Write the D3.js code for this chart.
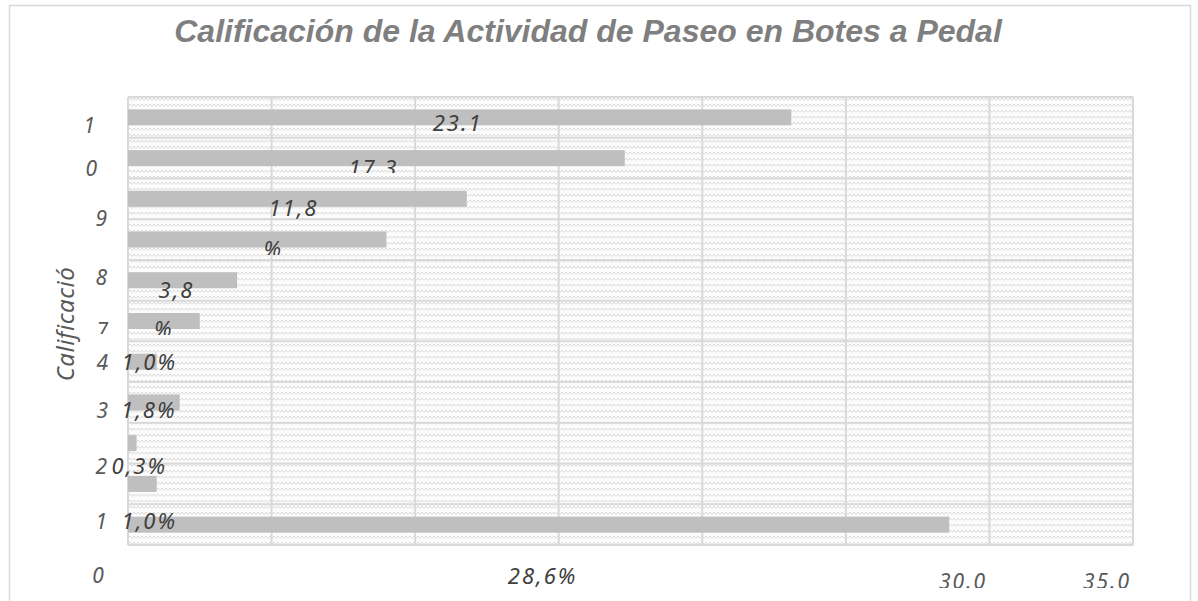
<!DOCTYPE html>
<html><head><meta charset="utf-8">
<script src="https://cdn.jsdelivr.net/npm/d3@7"></script>
<style>body{margin:0;background:#fff;overflow:hidden}</style>
</head><body>
<svg id="chart" width="1198" height="601"></svg>
<script>
// ---- data ----
const title = "Calificación de la Actividad de Paseo en Botes a Pedal";
const axisTitle = "Calificació";
const categories = ["r1","r2","r3","r4","r5","r6","r7","r8","r9","r10","r11"];
const values = [23.1, 17.3, 11.8, 9.0, 3.8, 2.5, 1.0, 1.8, 0.3, 1.0, 28.6];
const dataLabels = ["23.1","17.3","11,8","%","3,8","%","1,0%","1,8%","0,3%","1,0%","28,6%"];
const yTickLabels = ["1","0","9","8","7","4","3","2","1"];
const xTickLabels = ["0","30.0","35.0"];

// ---- layout ----
const W = 1198, H = 601;
const plot = {left: 128, right: 1133, top: 97, bottom: 545};
const svg = d3.select("#chart");
const defs = svg.append("defs");

const pat = defs.append("pattern").attr("id","zz").attr("patternUnits","userSpaceOnUse")
  .attr("width",8).attr("height",6);
pat.append("rect").attr("width",8).attr("height",6).attr("fill","#fcfcfc");
pat.append("path").attr("d","M0 4.5 L2 2 L4 4.5 L6 2 L8 4.5")
  .attr("fill","none").attr("stroke","#d6d6d6").attr("stroke-width",0.9);

// outer frame
svg.append("rect").attr("x",9.5).attr("y",5.5).attr("width",1181).attr("height",640)
  .attr("fill","#fff").attr("stroke","#d9d9d9").attr("stroke-width",1.5);

const x = d3.scaleLinear().domain([0,35]).range([plot.left, plot.right]);
const pad = 1 - 16 / ((plot.bottom - plot.top) / categories.length);
const y = d3.scaleBand().domain(categories).range([plot.top, plot.bottom])
  .paddingInner(pad).paddingOuter(pad/2);
const step = y.step();
const bandTop = c => y(c) - (step - y.bandwidth())/2;

// plot background
svg.append("rect").attr("x",plot.left).attr("y",plot.top)
  .attr("width",plot.right-plot.left).attr("height",plot.bottom-plot.top)
  .attr("fill","url(#zz)");

// gridlines
const g = svg.append("g").attr("stroke","#d9d9d9").attr("stroke-width",2);
g.selectAll("line.v").data(x.ticks(7)).join("line")
  .attr("x1",d=>x(d)).attr("x2",d=>x(d)).attr("y1",plot.top).attr("y2",plot.bottom);
g.selectAll("line.h").data(d3.range(categories.length+1)).join("line")
  .attr("x1",plot.left).attr("x2",plot.right)
  .attr("y1",i=>plot.top + i*step).attr("y2",i=>plot.top + i*step);

// bars
svg.append("g").selectAll("rect").data(values).join("rect")
  .attr("x",x(0)).attr("y",(d,i)=>y(categories[i]))
  .attr("width",d=>x(d)-x(0)).attr("height",y.bandwidth())
  .attr("fill","#bfbfbf");

// title
svg.append("text").attr("x",588).attr("y",42).attr("text-anchor","middle")
  .attr("font-family","'Liberation Sans', Arial, sans-serif").attr("font-weight","bold")
  .attr("font-style","italic").attr("font-size",32).attr("fill","#7f7f7f").text(title);

const hand = "'Noto Sans', 'DejaVu Sans', sans-serif";

// data labels (placement offsets per label)
const lblPos = [
  {dx:-2, dy:34}, {dx:-3, dy:38, clip:173}, {dx:-4, dy:37.5}, {dx:16, dy:38, clip:255},
  {dx:-6, dy:38}, {dx:0, dy:36.5, clip:335}, {dx:7, dy:28.6}, {dx:-5, dy:36},
  {dx:7, dy:51}, {dx:7, dy:65.4}, {dx:4, dy:79.6}
];
dataLabels.forEach((t,i)=>{
  const p = lblPos[i];
  const tx = svg.append("text")
    .attr("x", x(values[i]/2) + p.dx).attr("y", bandTop(categories[i]) + p.dy)
    .attr("text-anchor","middle").attr("font-family",hand).attr("font-style","italic")
    .attr("font-size",22).attr("letter-spacing",2).attr("fill","#404040").text(t);
  if (p.clip) {
    const id = "cl"+i;
    defs.append("clipPath").attr("id",id).append("rect")
      .attr("x",0).attr("y",0).attr("width",W).attr("height",p.clip);
    tx.attr("clip-path",`url(#${id})`);
  }
});

// y tick labels
const yTickPos = [
  {x:95,y:133},{x:97,y:176},{x:107,y:226},{x:107,y:285},{x:108,y:338,clip:334},
  {x:108,y:370},{x:108,y:418},{x:107,y:474},{x:107,y:529}
];
yTickLabels.forEach((t,i)=>{
  const p = yTickPos[i];
  const tx = svg.append("text").attr("x",p.x).attr("y",p.y).attr("text-anchor","end")
    .attr("font-family",hand).attr("font-style","italic").attr("font-size",21)
    .attr("fill","#595959").text(t);
  if (p.clip) {
    const id = "ycl"+i;
    defs.append("clipPath").attr("id",id).append("rect")
      .attr("x",0).attr("y",0).attr("width",W).attr("height",p.clip);
    tx.attr("clip-path",`url(#${id})`);
  }
});

// x tick labels
const xTickPos = [{x:99,y:583},{x:963,y:589},{x:1107,y:589}];
defs.append("clipPath").attr("id","xcl").append("rect")
  .attr("x",0).attr("y",0).attr("width",W).attr("height",588);
xTickLabels.forEach((t,i)=>{
  const p = xTickPos[i];
  const tx = svg.append("text").attr("x",p.x).attr("y",p.y).attr("text-anchor","middle")
    .attr("font-family",hand).attr("font-style","italic").attr("font-size",21)
    .attr("letter-spacing",2).attr("fill","#595959").text(t);
  if (i>0) tx.attr("clip-path","url(#xcl)");
});

// axis title
svg.append("text").attr("transform","translate(74,324) rotate(-90)")
  .attr("text-anchor","middle").attr("font-family",hand).attr("font-style","italic")
  .attr("font-size",24).attr("letter-spacing",0.5).attr("fill","#595959").text(axisTitle);
</script>
</body></html>
